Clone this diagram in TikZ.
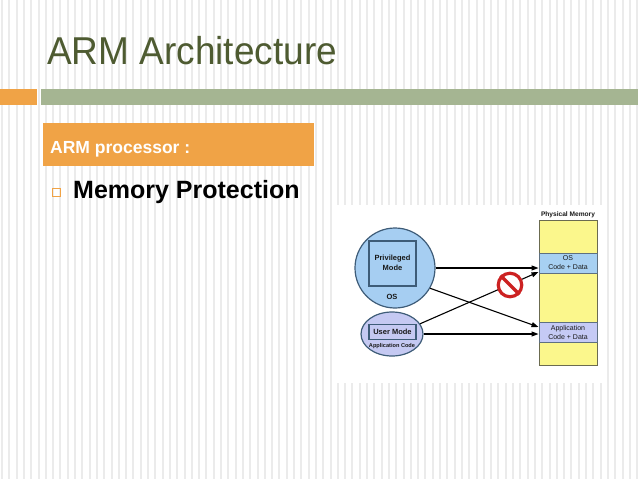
\documentclass[tikz,border=0pt]{standalone}
\usepackage{fontspec}
\setmainfont{Liberation Sans}
\usetikzlibrary{shapes.geometric,arrows.meta}
\definecolor{stripe}{HTML}{EBEBEB}
\definecolor{orangeA}{HTML}{F0A346}
\definecolor{greenA}{HTML}{A5B592}
\definecolor{titlec}{HTML}{4E5B31}
\definecolor{circfill}{HTML}{A6CEF2}
\definecolor{circline}{HTML}{3E5C78}
\definecolor{ellfill}{HTML}{C5C9F2}
\definecolor{memfill}{HTML}{FBF78C}
\definecolor{memline}{HTML}{6B6B50}
\definecolor{osfill}{HTML}{A7D0F2}
\definecolor{appfill}{HTML}{C5CAF5}
\definecolor{bandline}{HTML}{5E7080}
\definecolor{nored}{HTML}{CC2222}
\begin{document}
\begin{tikzpicture}[x=1pt,y=-1pt,
  arr/.style={-{Triangle[length=7pt,width=5pt]}, line width=1.1pt, black},
  lbl/.style={font=\bfseries\fontsize{7.5}{10}\selectfont, text=black!90, inner sep=0, align=center},
  band/.style={draw=bandline, line width=1pt, minimum width=58pt, minimum height=20pt, inner sep=0, font=\fontsize{7}{9}\selectfont, align=center, text=black!90}
]
\useasboundingbox (0,0) rectangle (638,479);
\fill[white] (0,0) rectangle (638,479);
\foreach \x in {1,8.3,...,638} \fill[stripe] (\x,0) rectangle ++(2,479);
\fill[white] (336,205) rectangle (604,383);
% header bars
\fill[orangeA] (0,89) rectangle (37,105);
\fill[greenA] (41,89) rectangle (638,105);
\node[anchor=base west, inner sep=0, text=titlec, font=\fontsize{37}{40}\selectfont, yscale=1.05] (title) at (47,64) {ARM Architecture};
\node[fill=orangeA, minimum width=271pt, minimum height=43pt, anchor=north west, inner sep=0] (hdr) at (43,123) {};
\node[anchor=base west, inner sep=0, text=white, font=\bfseries\fontsize{17.5}{20}\selectfont] (hdrtxt) at (50,153) {ARM processor :};
\node[draw=orangeA, line width=0.8pt, minimum size=8pt, inner sep=0] (bul) at (56,192) {};
\node[anchor=base west, inner sep=0, font=\bfseries\fontsize{25}{28}\selectfont] (mp) at (73,198.5) {Memory Protection};
% left side
\node[circle, draw=circline, fill=circfill, line width=1.2pt, minimum size=80pt, inner sep=0] (circ) at (395,268) {};
\node[draw=circline, line width=1.2pt, minimum width=47pt, minimum height=45pt, inner sep=0] (priv) at (392.5,263.5) {};
\node[lbl] (privtxt) at (392.5,262.5) {Privileged\\Mode};
\node[lbl] (ostxt) at (392,296.5) {OS};
\node[ellipse, draw=circline, fill=ellfill, line width=1.2pt, minimum width=62pt, minimum height=44pt, inner sep=0] (user) at (392,334) {};
\node[lbl, draw=circline, line width=1.2pt, minimum width=47pt, minimum height=15pt] (ubox) at (392.5,332) {User Mode};
\node[font=\bfseries\fontsize{5.6}{6}\selectfont, inner sep=0, text=black!90] (apptxt) at (392,346.5) {Application Code};
% memory
\node[draw=memline, fill=memfill, line width=1pt, minimum width=58pt, minimum height=145pt, inner sep=0] (mem) at (568,292.5) {};
\node[font=\bfseries\fontsize{6.6}{7}\selectfont, inner sep=0, anchor=south, text=black!90] (memtitle) at (568,218.5) {Physical Memory};
\node[band, fill=osfill] (memos) at (568,263) {OS\\Code + Data};
\node[band, fill=appfill] (memapp) at (568,332) {Application\\Code + Data};
% arrows
\draw[arr] (circ.east) -- (circ.east -| memos.west);
\draw[arr] (circ.-30) -- ([yshift=5pt]memapp.west);
\draw[arr] (user.20) -- ([yshift=-9pt]memos.west);
\draw[arr] (user.east) -- (user.east -| memapp.west);
% no sign
\node[circle, draw=nored, fill=white, line width=3.2pt, minimum size=23.5pt, inner sep=0] (nosign) at (510,285) {};
\draw[nored, line width=3.2pt] (nosign.135) -- (nosign.-45);
\end{tikzpicture}
\end{document}
